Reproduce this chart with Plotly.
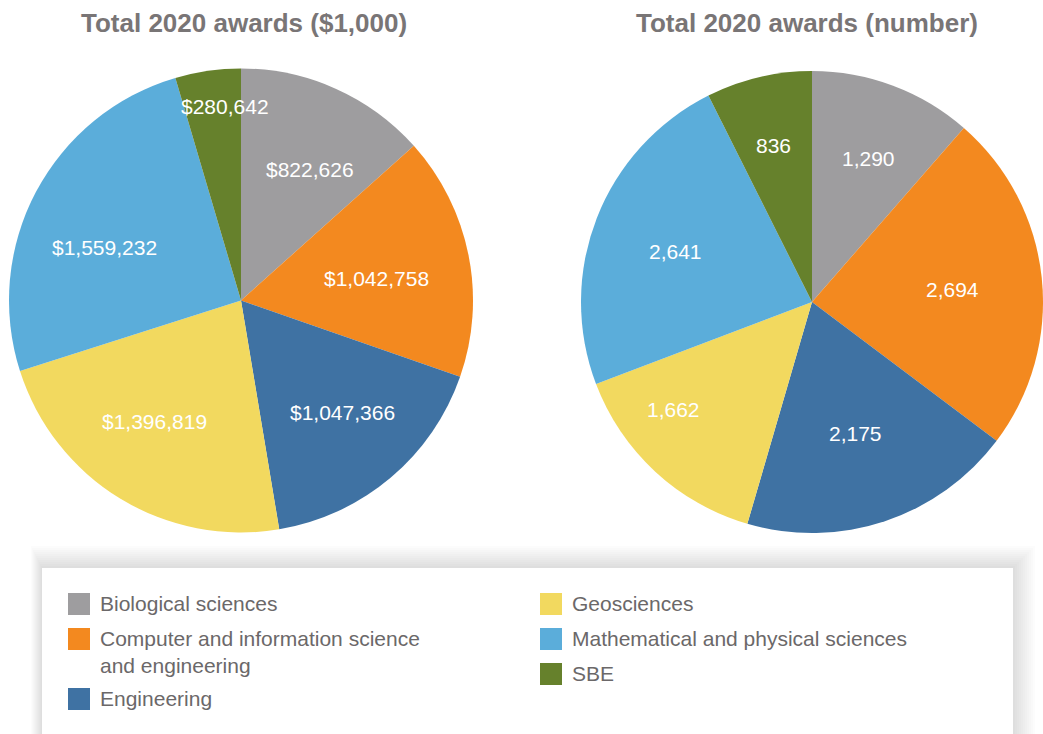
import numpy as np
import plotly.graph_objects as go

# categories, in drawing order (clockwise from 12 o'clock)
categories = [
    "Biological sciences",
    "Computer and information science and engineering",
    "Engineering",
    "Geosciences",
    "Mathematical and physical sciences",
    "SBE",
]
legend_labels = [
    "Biological sciences",
    "Computer and information science<br>and engineering",
    "Engineering",
    "Geosciences",
    "Mathematical and physical sciences",
    "SBE",
]
awards_dollars = [822626, 1042758, 1047366, 1396819, 1559232, 280642]
awards_number = [1290, 2694, 2175, 1662, 2641, 836]
titles = ["Total 2020 awards ($1,000)", "Total 2020 awards (number)"]

COLORS = ["#9e9d9f", "#f3891f", "#3f72a3", "#f2d95f", "#5badda", "#66812c"]
TITLE_COLOR = "#797576"
TEXT_COLOR = "#6b6869"
FONT = "Liberation Sans, Arial, Helvetica, sans-serif"

W, H = 1043, 734

# pie geometry in page pixels (centre x, centre y from top, radius)
pies = [
    dict(cx=241, cy=300.5, r=232),
    dict(cx=812, cy=302, r=231),
]
# label placement: fraction of radius, angular nudge in degrees
label_r = [
    [0.64, 0.59, 0.65, 0.64, 0.63, 0.84],
    [0.67, 0.61, 0.60, 0.76, 0.63, 0.70],
]
label_nudge = [
    [3.8, 2.0, -2.0, 4.0, -6.5, 3.5],
    [1.0, 0.7, 0.0, 9.5, -1.0, -0.6],
]


def px_x(x):
    return x / W


def px_y(y):
    return 1 - y / H


def fmt_dollar(v):
    return f"${v:,}"


def fmt_num(v):
    return f"{v:,}"


fig = go.Figure()
annotations = []

for i, (values, fmt) in enumerate([(awards_dollars, fmt_dollar), (awards_number, fmt_num)]):
    p = pies[i]
    fig.add_trace(
        go.Pie(
            labels=categories,
            values=values,
            sort=False,
            direction="clockwise",
            rotation=0,
            marker=dict(colors=COLORS, line=dict(width=0)),
            textinfo="none",
            hoverinfo="label+value+percent",
            showlegend=False,
            domain=dict(
                x=[px_x(p["cx"] - p["r"]), min(1.0, px_x(p["cx"] + p["r"]))],
                y=[px_y(p["cy"] + p["r"]), px_y(p["cy"] - p["r"])],
            ),
        )
    )
    # value labels, placed at each slice's mid angle
    vals = np.array(values, dtype=float)
    cum = np.cumsum(vals) / vals.sum() * 360.0
    mids = cum - vals / vals.sum() * 180.0
    for j, v in enumerate(values):
        a = np.deg2rad(mids[j] + label_nudge[i][j])
        rr = label_r[i][j] * p["r"]
        annotations.append(dict(
            x=px_x(p["cx"] + rr * np.sin(a)), y=px_y(p["cy"] - rr * np.cos(a)),
            xref="paper", yref="paper",
            text=fmt(v), showarrow=False,
            font=dict(family=FONT, size=21, color="white"),
            xanchor="center", yanchor="middle",
        ))

# chart titles
for t, cx in zip(titles, [244, 807]):
    annotations.append(dict(
        x=px_x(cx), y=px_y(23), xref="paper", yref="paper",
        text=f"<b>{t}</b>", showarrow=False,
        font=dict(family=FONT, size=26, color=TITLE_COLOR),
        xanchor="center", yanchor="middle",
    ))

shapes = []
# legend box with a soft shadow
bx0, bx1, by0, by1 = 42, 1013, 568, 770
for k in range(12):
    g = 22 - k * 2
    shapes.append(dict(
        type="rect", xref="paper", yref="paper", layer="below",
        x0=px_x(bx0 - g * 0.5), x1=px_x(bx1 + g),
        y0=px_y(by1 + g), y1=px_y(by0 - g),
        fillcolor="rgba(0,0,0,0.011)", line=dict(width=0),
    ))
shapes.append(dict(
    type="rect", xref="paper", yref="paper", layer="below",
    x0=px_x(bx0), x1=px_x(bx1), y0=px_y(by1), y1=px_y(by0),
    fillcolor="white", line=dict(width=0),
))

# custom legend: two columns
legend_pos = [
    (68, 593), (68, 628), (68, 688),
    (540, 593), (540, 628), (540, 663),
]
for j, lab in enumerate(legend_labels):
    lx, ly = legend_pos[j]
    shapes.append(dict(
        type="rect", xref="paper", yref="paper",
        x0=px_x(lx), x1=px_x(lx + 22), y0=px_y(ly + 22), y1=px_y(ly),
        fillcolor=COLORS[j], line=dict(width=0),
    ))
    annotations.append(dict(
        x=px_x(lx + 30), y=px_y(ly - 3), xref="paper", yref="paper",
        text=lab, showarrow=False, align="left",
        font=dict(family=FONT, size=21, color=TEXT_COLOR),
        xanchor="left", yanchor="top",
    ))

fig.update_layout(
    width=W,
    height=H,
    margin=dict(l=0, r=0, t=0, b=0),
    paper_bgcolor="white",
    plot_bgcolor="white",
    annotations=annotations,
    shapes=shapes,
    showlegend=False,
)

# drop the default 8px body margin so the figure sits at the page corner
fig.write_html(
    "out.html",
    config={"displayModeBar": False},
    post_script="document.body.style.margin='0';document.body.style.overflow='hidden';",
)
